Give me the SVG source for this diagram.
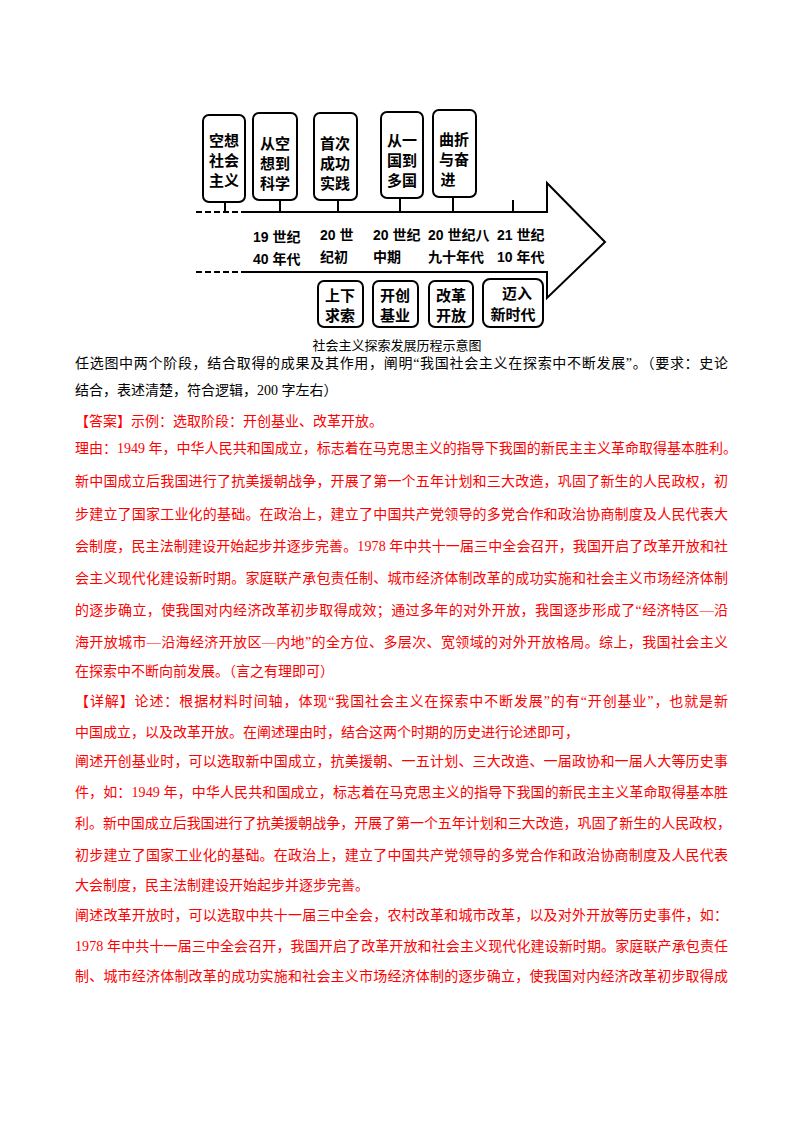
<svg xmlns="http://www.w3.org/2000/svg" width="800" height="1132" viewBox="0 0 800 1132">
<style>
.bx{fill:#fff;stroke:#000;stroke-width:2}
.ln{stroke:#000;stroke-width:2;fill:none}
.dl{stroke:#000;stroke-width:2;stroke-dasharray:6,3;fill:none}
.bt{font-family:"Liberation Sans","Noto Sans CJK SC",sans-serif;font-size:15px;font-weight:bold;fill:#000;text-anchor:middle}
.lb{font-family:"Liberation Sans","Noto Sans CJK SC",sans-serif;font-size:14px;font-weight:bold;fill:#000}
.cap{font-family:"Noto Sans CJK SC",sans-serif;font-size:13px;fill:#000;text-anchor:middle}
.t{font-family:"Liberation Serif","Noto Sans CJK SC",serif;font-size:14px;fill:#000}
.r{fill:#f00}
</style>
<rect width="800" height="1132" fill="#fff"/>
<g id="connectors">
<path class="dl" d="M196 212H243"/>
<path class="ln" d="M243 212H547V183L605 242L547 298V272H243"/>
<path class="dl" d="M196 272H243"/>
<path class="ln" d="M225 202V212M280 200V212M338 200V212M400 198V212M453 197V212M513 200V212"/>
</g>
<g id="n1"><rect class="bx" x="203" y="115" width="42" height="87" rx="6"/><text class="bt" x="224" y="146">空想</text><text class="bt" x="224" y="166">社会</text><text class="bt" x="224" y="186">主义</text></g>
<g id="n2"><rect class="bx" x="253" y="113" width="44" height="87" rx="6"/><text class="bt" x="275" y="149">从空</text><text class="bt" x="275" y="169">想到</text><text class="bt" x="275" y="189">科学</text></g>
<g id="n3"><rect class="bx" x="314" y="113" width="43" height="87" rx="6"/><text class="bt" x="335" y="149">首次</text><text class="bt" x="335" y="169">成功</text><text class="bt" x="335" y="189">实践</text></g>
<g id="n4"><rect class="bx" x="381" y="112" width="42" height="86" rx="6"/><text class="bt" x="402" y="146">从一</text><text class="bt" x="402" y="166">国到</text><text class="bt" x="402" y="186">多国</text></g>
<g id="n5"><rect class="bx" x="433" y="110" width="43" height="87" rx="6"/><text class="bt" x="454" y="145">曲折</text><text class="bt" x="454" y="165">与奋</text><text class="bt" x="448" y="185">进</text></g>
<g id="labels">
<text class="lb" x="253" y="242">19 世纪</text><text class="lb" x="253" y="264">40 年代</text>
<text class="lb" x="320" y="240">20 世</text><text class="lb" x="320" y="262">纪初</text>
<text class="lb" x="373" y="240">20 世纪</text><text class="lb" x="373" y="262">中期</text>
<text class="lb" x="428" y="240">20  世纪八</text><text class="lb" x="428" y="262">九十年代</text>
<text class="lb" x="497" y="240">21 世纪</text><text class="lb" x="497" y="262">10 年代</text>
</g>
<g id="n6"><rect class="bx" x="318" y="281" width="45" height="46" rx="6"/><text class="bt" x="340" y="301">上下</text><text class="bt" x="340" y="321">求索</text></g>
<g id="n7"><rect class="bx" x="373" y="281" width="45" height="46" rx="6"/><text class="bt" x="395" y="301">开创</text><text class="bt" x="395" y="321">基业</text></g>
<g id="n8"><rect class="bx" x="429" y="281" width="44" height="46" rx="6"/><text class="bt" x="451" y="301">改革</text><text class="bt" x="451" y="321">开放</text></g>
<g id="n9"><rect class="bx" x="483" y="279" width="60" height="48" rx="7"/><text class="bt" x="517" y="299">迈入</text><text class="bt" x="513" y="320">新时代</text></g>
<text class="cap" x="397" y="350">社会主义探索发展历程示意图</text>
<g id="body">
<text class="t" x="75" y="368" textLength="653" lengthAdjust="spacing">任选图中两个阶段，结合取得的成果及其作用，阐明“我国社会主义在探索中不断发展”。（要求：史论</text>
<text class="t" x="75" y="395">结合，表述清楚，符合逻辑，200 字左右）</text>
<text class="t r" x="75" y="426">【答案】示例：选取阶段：开创基业、改革开放。</text>
<text class="t r" x="75" y="453" textLength="662" lengthAdjust="spacing">理由：1949 年，中华人民共和国成立，标志着在马克思主义的指导下我国的新民主主义革命取得基本胜利。</text>
<text class="t r" x="75" y="486" textLength="653" lengthAdjust="spacing">新中国成立后我国进行了抗美援朝战争，开展了第一个五年计划和三大改造，巩固了新生的人民政权，初</text>
<text class="t r" x="75" y="519" textLength="653" lengthAdjust="spacing">步建立了国家工业化的基础。在政治上，建立了中国共产党领导的多党合作和政治协商制度及人民代表大</text>
<text class="t r" x="75" y="551" textLength="653" lengthAdjust="spacing">会制度，民主法制建设开始起步并逐步完善。1978 年中共十一届三中全会召开，我国开启了改革开放和社</text>
<text class="t r" x="75" y="583" textLength="653" lengthAdjust="spacing">会主义现代化建设新时期。家庭联产承包责任制、城市经济体制改革的成功实施和社会主义市场经济体制</text>
<text class="t r" x="75" y="615" textLength="653" lengthAdjust="spacing">的逐步确立，使我国对内经济改革初步取得成效；通过多年的对外开放，我国逐步形成了“经济特区—沿</text>
<text class="t r" x="75" y="647" textLength="653" lengthAdjust="spacing">海开放城市—沿海经济开放区—内地”的全方位、多层次、宽领域的对外开放格局。综上，我国社会主义</text>
<text class="t r" x="75" y="676">在探索中不断向前发展。（言之有理即可）</text>
<text class="t r" x="75" y="706" textLength="653" lengthAdjust="spacing">【详解】论述：根据材料时间轴，体现“我国社会主义在探索中不断发展”的有“开创基业”，也就是新</text>
<text class="t r" x="75" y="737">中国成立，以及改革开放。在阐述理由时，结合这两个时期的历史进行论述即可，</text>
<text class="t r" x="75" y="766" textLength="653" lengthAdjust="spacing">阐述开创基业时，可以选取新中国成立，抗美援朝、一五计划、三大改造、一届政协和一届人大等历史事</text>
<text class="t r" x="75" y="797" textLength="653" lengthAdjust="spacing">件，如：1949 年，中华人民共和国成立，标志着在马克思主义的指导下我国的新民主主义革命取得基本胜</text>
<text class="t r" x="75" y="828" textLength="656" lengthAdjust="spacing">利。新中国成立后我国进行了抗美援朝战争，开展了第一个五年计划和三大改造，巩固了新生的人民政权，</text>
<text class="t r" x="75" y="860" textLength="653" lengthAdjust="spacing">初步建立了国家工业化的基础。在政治上，建立了中国共产党领导的多党合作和政治协商制度及人民代表</text>
<text class="t r" x="75" y="890">大会制度，民主法制建设开始起步并逐步完善。</text>
<text class="t r" x="75" y="920" textLength="653" lengthAdjust="spacing">阐述改革开放时，可以选取中共十一届三中全会，农村改革和城市改革，以及对外开放等历史事件，如：</text>
<text class="t r" x="75" y="951" textLength="653" lengthAdjust="spacing">1978 年中共十一届三中全会召开，我国开启了改革开放和社会主义现代化建设新时期。家庭联产承包责任</text>
<text class="t r" x="75" y="981" textLength="653" lengthAdjust="spacing">制、城市经济体制改革的成功实施和社会主义市场经济体制的逐步确立，使我国对内经济改革初步取得成</text>
</g>
</svg>
